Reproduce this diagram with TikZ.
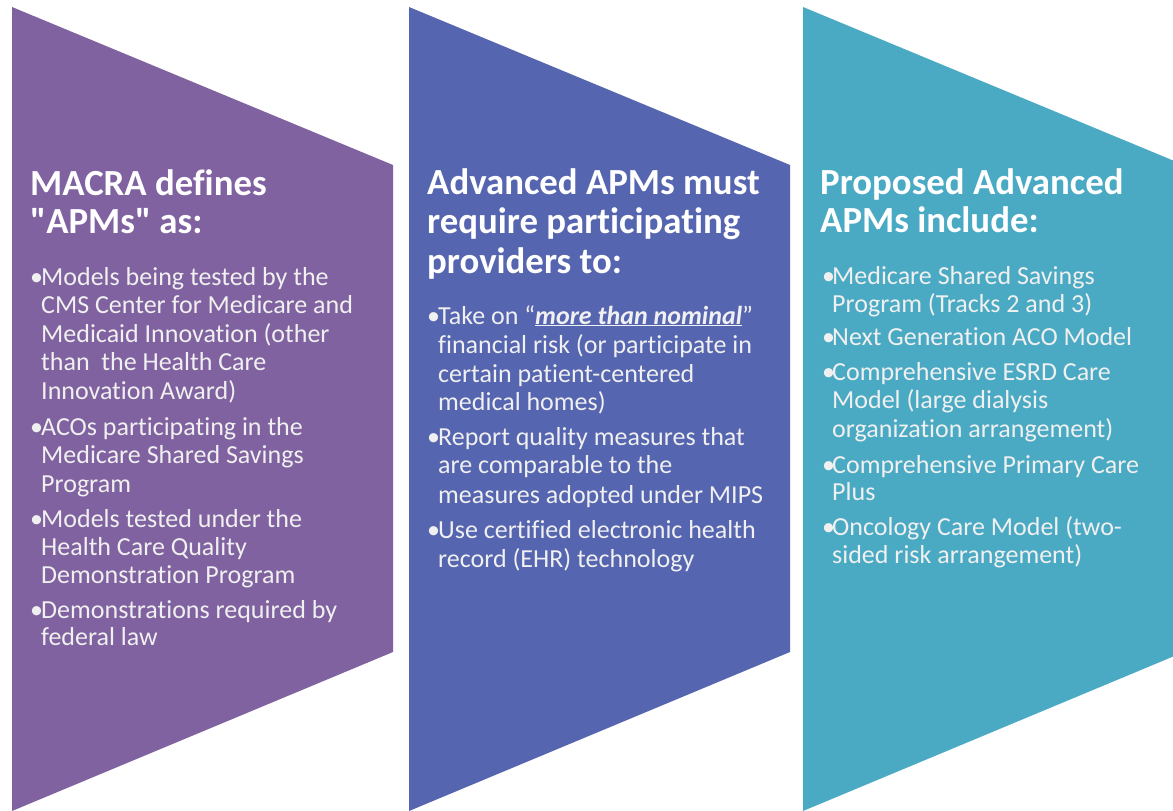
\documentclass[tikz,border=0pt]{standalone}
\usepackage{fontspec}
\setmainfont{Carlito}[Ligatures={NoCommon,TeXOff}]
\definecolor{cpurple}{HTML}{8062A0}
\definecolor{cblue}{HTML}{5565B0}
\definecolor{cteal}{HTML}{4AAAC4}
\tikzset{
  head/.style={anchor=base west, inner sep=0pt, text=white, font=\fontsize{36.8}{39}\selectfont\bfseries},
  body/.style={anchor=base west, inner sep=0pt, text=white!94!black, font=\fontsize{26}{29}\selectfont},
  bul/.style={anchor=base west, inner sep=0pt, text=white!94!black, font=\fontsize{26}{29}\selectfont},
}
\begin{document}
\begin{tikzpicture}[x=1pt,y=-1pt]
\useasboundingbox (0,0) rectangle (1173,811);
\begin{scope}
\clip (0,0) rectangle (1173,811);
\fill[cpurple] (12,7) -- (393,165) -- (393,652) -- (12,811) -- cycle;
\fill[cblue] (409,7) -- (790,165) -- (790,652) -- (409,811) -- cycle;
\fill[cteal] (803,7) -- (1184,165) -- (1184,652) -- (803,811) -- cycle;
\end{scope}

% Panel 1
\node[head] (h1a) at (30,195) {MACRA defines};
\node[head] (h1b) at (30,233) {"APMs" as:};
\node[bul] (b1a) at (30,285) {•};
\node[body] (t1a) at (41,285) {Models being tested by the};
\node[body] (t1b) at (41,313) {CMS Center for Medicare and};
\node[body] (t1c) at (41,342) {Medicaid Innovation (other};
\node[body] (t1d) at (41,370) {than\ \ the Health Care};
\node[body] (t1e) at (41,399) {Innovation Award)};
\node[bul] (b1b) at (30,435) {•};
\node[body] (t1f) at (41,435) {ACOs participating in the};
\node[body] (t1g) at (41,463) {Medicare Shared Savings};
\node[body] (t1h) at (41,492) {Program};
\node[bul] (b1c) at (30,527) {•};
\node[body] (t1i) at (41,527) {Models tested under the};
\node[body] (t1j) at (41,555) {Health Care Quality};
\node[body] (t1k) at (41,583) {Demonstration Program};
\node[bul] (b1d) at (30,618) {•};
\node[body] (t1l) at (41,618) {Demonstrations required by};
\node[body] (t1m) at (41,645) {federal law};

% Panel 2
\node[head] (h2a) at (427,194) {Advanced APMs must};
\node[head] (h2b) at (427,233) {require participating};
\node[head] (h2c) at (427,273) {providers to:};
\node[bul] (b2a) at (427,324) {•};
\node[body] (t2a) at (438,324) {Take on “\underline{\textbf{\textit{more than nominal}}}”};
\node[body] (t2b) at (438,353) {financial risk (or participate in};
\node[body] (t2c) at (438,382) {certain patient-centered};
\node[body] (t2d) at (438,410) {medical homes)};
\node[bul] (b2b) at (427,445) {•};
\node[body] (t2e) at (438,445) {Report quality measures that};
\node[body] (t2f) at (438,473) {are comparable to the};
\node[body] (t2g) at (438,503) {measures adopted under MIPS};
\node[bul] (b2c) at (427,538) {•};
\node[body] (t2h) at (438,538) {Use certified electronic health};
\node[body] (t2i) at (438,567) {record (EHR) technology};

% Panel 3
\node[head] (h3a) at (820,194) {Proposed Advanced};
\node[head] (h3b) at (820,232) {APMs include:};
\node[bul] (b3a) at (822,284) {•};
\node[body] (t3a) at (832,284) {Medicare Shared Savings};
\node[body] (t3b) at (832,312) {Program (Tracks 2 and 3)};
\node[bul] (b3b) at (822,345) {•};
\node[body] (t3c) at (832,345) {Next Generation ACO Model};
\node[bul] (b3c) at (822,380) {•};
\node[body] (t3d) at (832,380) {Comprehensive ESRD Care};
\node[body] (t3e) at (832,408) {Model (large dialysis};
\node[body] (t3f) at (832,437) {organization arrangement)};
\node[bul] (b3d) at (822,473) {•};
\node[body] (t3g) at (832,473) {Comprehensive Primary Care};
\node[body] (t3h) at (832,500) {Plus};
\node[bul] (b3e) at (822,535) {•};
\node[body] (t3i) at (832,535) {Oncology Care Model (two-};
\node[body] (t3j) at (832,563) {sided risk arrangement)};
\end{tikzpicture}
\end{document}
